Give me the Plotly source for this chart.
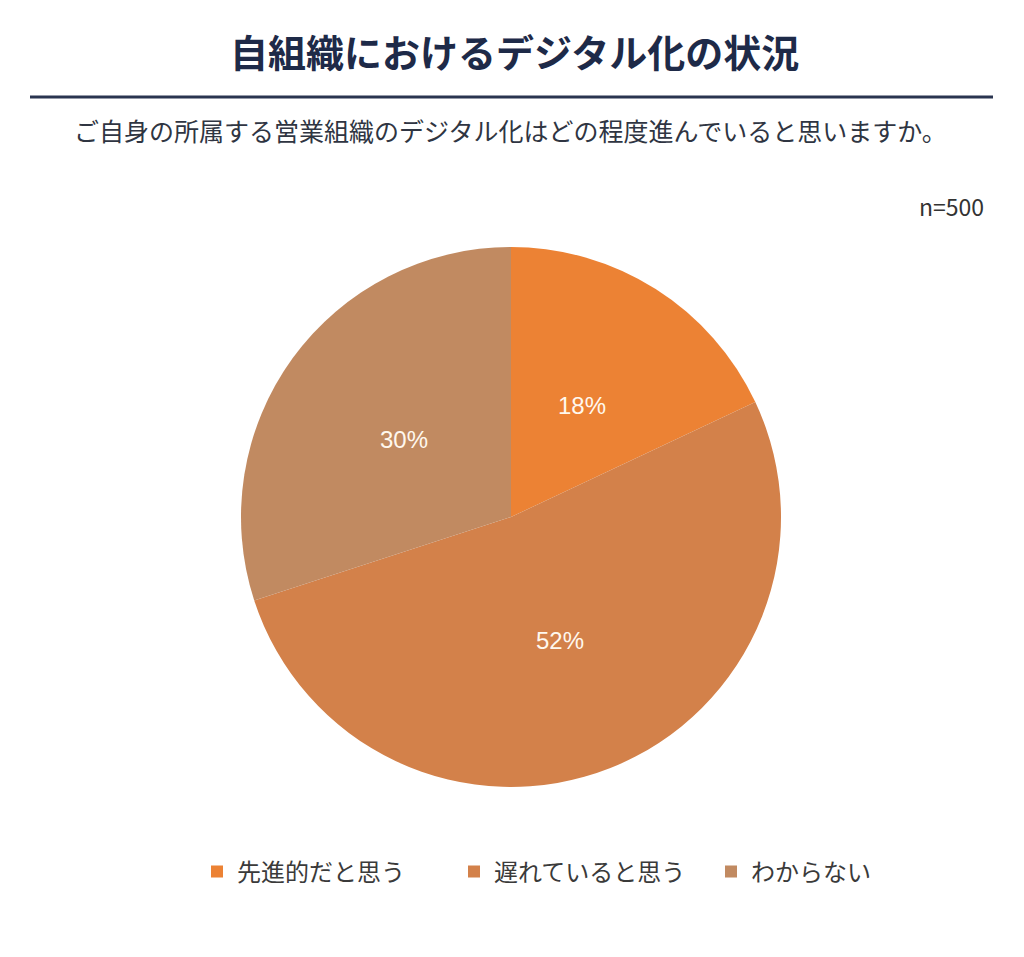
import math
import plotly.graph_objects as go

# data
labels = ['先進的だと思う', '遅れていると思う', 'わからない']
values = [18, 52, 30]
colors = ['#EC8234', '#D3814A', '#C18A61']

title_text = '自組織におけるデジタル化の状況'
question_text = 'ご自身の所属する営業組織のデジタル化はどの程度進んでいると思いますか。'
n_text = 'n=500'

W, H = 1024, 957
OFF = 8  # the page body adds an 8px margin around the plot div
font = 'Noto Sans CJK JP'


def px(x):
    return (x - OFF) / W


def py(y):
    return 1 - (y - OFF) / H


# pie placement (pixels)
cx, cy, r = 511, 517, 270

pie = go.Pie(
    labels=labels,
    values=values,
    marker=dict(colors=colors, line=dict(width=0)),
    sort=False,
    direction='clockwise',
    rotation=0,
    textinfo='none',
    hoverinfo='label+percent',
    domain=dict(x=[px(cx - r), px(cx + r)], y=[py(cy + r), py(cy - r)]),
)

fig = go.Figure(pie)

fig.update_layout(
    width=W,
    height=H,
    margin=dict(l=0, r=0, t=0, b=0),
    paper_bgcolor='white',
    plot_bgcolor='white',
    font=dict(family=font, color='#333333'),
    showlegend=True,
    legend=dict(
        orientation='h',
        x=px(197), xanchor='left',
        y=py(872), yanchor='middle',
        font=dict(family=font, size=24, color='#3a3a3a'),
        itemwidth=30,
        traceorder='normal',
        entrywidthmode='pixels',
        entrywidth=212,
    ),
)

# percentage labels at half radius on each slice's middle angle
total = sum(values)
start = 0
for v in values:
    mid = (start + v / 2) / total * 2 * math.pi
    start += v
    lx = cx + 0.49 * r * math.sin(mid)
    ly = cy - 0.49 * r * math.cos(mid)
    fig.add_annotation(text='%d%%' % round(v / total * 100), x=px(lx), y=py(ly),
                       xref='paper', yref='paper', showarrow=False,
                       xanchor='center', yanchor='middle',
                       font=dict(family='Liberation Sans, Arial', size=24,
                                 color='#FFF8EE'))

# title, rule line, question and sample size
fig.add_annotation(text='<b>' + title_text + '</b>', x=px(514), y=py(50),
                   xref='paper', yref='paper', showarrow=False,
                   yanchor='middle',
                   font=dict(family=font, size=38, color='#1E2A48'))
fig.add_shape(type='line', xref='paper', yref='paper',
              x0=px(30), x1=px(993), y0=py(97), y1=py(97),
              line=dict(color='#2A3550', width=3))
fig.add_annotation(text=question_text, x=px(510), y=py(130),
                   xref='paper', yref='paper', showarrow=False,
                   yanchor='middle',
                   font=dict(family=font, size=25, color='#2f3542'))
fig.add_annotation(text=n_text, x=px(986), y=py(206),
                   xref='paper', yref='paper', showarrow=False,
                   xanchor='right', yanchor='middle',
                   font=dict(family=font, size=23, color='#333333'))

fig.write_html('out.html')
